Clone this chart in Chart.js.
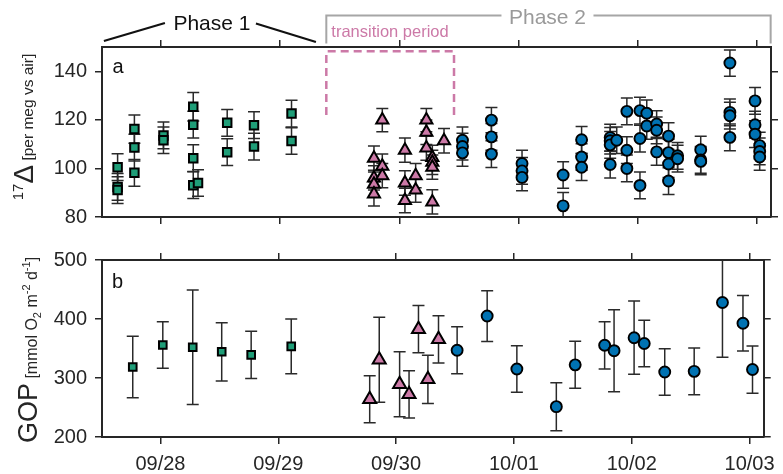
<!DOCTYPE html>
<html><head><meta charset="utf-8">
<script src="https://cdn.jsdelivr.net/npm/chart.js@4.4.0/dist/chart.umd.min.js"></script>
<style>
html,body{margin:0;padding:0;background:#fff;}
#wrap{position:relative;width:783px;height:474px;overflow:hidden;}
.c{position:absolute;left:0;width:783px;height:237px;}
#ca{top:0}
#cb{top:237px}
</style></head><body>
<div id="wrap">
<div class="c" id="ca"><canvas id="chartA" width="783" height="237"></canvas></div>
<div class="c" id="cb"><canvas id="chartB" width="783" height="237"></canvas></div>
</div>
<script>
// ---- Data (time in days after 09/28 00:00) ----
const dayLabels = ['09/28','09/29','09/30','10/01','10/02','10/03'];

// Panel a: 17Δ (per meg vs air)
const sqTimeA = [-0.365,-0.365,-0.365,-0.224,-0.224,-0.224,0.02,0.02,0.27,0.27,0.27,0.27,0.31,0.555,0.555,0.78,0.78,1.095,1.095];
const sqD17 = [100.5,92.4,91.1,116.2,108.6,98.2,113.6,111.6,125.4,118.0,104.2,93.1,94.0,118.8,106.7,117.8,109.0,122.6,111.3];
const sqD17Err = [5.5,5.5,5.5,5.8,5.5,5.5,5.5,5.5,5.9,5.5,5.5,5.5,5.5,5.5,5.5,5.5,5.5,5.5,5.5];

const triTimeA = [1.787,1.787,1.787,1.787,1.857,1.857,1.857,2.047,2.047,2.047,2.137,2.137,2.227,2.227,2.227,2.277,2.277,2.277,2.277,2.375];
const triD17 = [104.2,96.1,93.5,89.5,119.9,100.9,97.0,107.5,94.0,86.8,97.0,91.1,119.9,114.9,108.4,104.5,102.5,100.5,86.2,111.4];
const triD17Err = [5,5,5,5,4.8,5,5,5,5,5,5,5,4.8,5,5,5,5,5,5,5];

const circTimeA = [2.53,2.53,2.53,2.773,2.773,2.773,3.03,3.03,3.03,3.375,3.375,3.53,3.53,3.53,3.77,3.77,3.77,3.77,3.825,3.91,3.91,3.91,4.02,4.02,4.02,4.077,4.077,4.16,4.16,4.16,4.26,4.26,4.26,4.26,4.336,4.336,4.53,4.53,4.53,4.775,4.775,4.775,4.775,4.986,4.986,4.986,5.025,5.025,5.025];
const circD17 = [111.6,109.0,106.4,119.9,113.0,105.9,102.0,99.0,96.3,97.3,84.6,111.8,104.7,100.5,112.7,111.4,109.7,101.6,111.6,123.5,107.5,100.0,123.8,112.3,93.0,122.7,117.5,118.3,115.7,106.8,113.3,106.5,101.8,94.8,105.2,104.0,107.7,103.5,102.9,143.4,123.1,121.7,112.8,127.8,118.0,114.1,109.4,107.0,104.7];
const circD17Err = [5.5,5.5,5.5,5.2,5.5,5.5,5.5,5.5,5.5,5.5,5.5,5.5,5.5,5.5,5.5,5.5,5.5,5.5,5.5,5.5,5.5,5.5,5.5,5.5,5.5,5.5,5.5,5.5,5.5,5.5,5.5,5.5,5.5,5.5,5.5,5.5,5.5,5.5,5.5,5.4,5.5,5.5,5.5,5.5,5.5,5.5,5.5,5.5,5.5];

// Panel b: GOP (mmol O2 m-2 d-1)
const sqTimeB = [-0.235,0.02,0.274,0.52,0.77,1.11];
const sqGOP = [318.7,356,352.2,344.4,339.2,353.5];
const sqGOPErr = [52,39.5,97,49.4,40,46.5];
const triTimeB = [1.776,1.857,2.03,2.11,2.19,2.27,2.36];
const triGOP = [264,331,289.5,272.4,382.8,297.7,365.5];
const triGOPErr = [40,72,55,40,40,41,40];
const circTimeB = [2.518,2.773,3.025,3.36,3.52,3.77,3.85,4.02,4.106,4.28,4.53,4.77,4.944,5.025];
const circGOP = [347,405,315.3,251.4,322.3,355.4,346.3,368.3,358.5,310.2,311.3,428,392.7,314.3];
const circGOPErr = [40,43,39.5,40.6,39.8,40,69.5,62,39.5,39.5,39.5,93,47,40];

// Periods (days) and transition window box (17Δ units)
const phase1Range = [-0.48, 1.30];
const phase2Range = [1.387, 5.117];
const transitionRange = [1.387, 2.459];
const transitionD17 = [122, 148.2];

const xMin = -0.496, xMax = 5.12;
const FONT = "'Liberation Sans', Arial, Helvetica, sans-serif";
const AX = '#262626';
const GREEN = '#1f9e78', PINK = '#cc79a7', BLUE = '#0072b2';

Chart.defaults.font.family = FONT;
Chart.defaults.color = AX;

const pts = (xs, ys) => xs.map((x, i) => ({x, y: ys[i]}));

const errorBarPlugin = {
  id: 'errbars',
  beforeDatasetsDraw(chart) {
    const ctx = chart.ctx, xs = chart.scales.x, ys = chart.scales.y, a = chart.chartArea;
    ctx.save();
    ctx.beginPath(); ctx.rect(a.left, a.top, a.right - a.left, a.bottom - a.top); ctx.clip();
    ctx.strokeStyle = '#2a2a2a';
    ctx.lineWidth = 1.5;
    chart.data.datasets.forEach(ds => {
      if (!ds.errors) return;
      ds.data.forEach((p, i) => {
        const e = ds.errors[i];
        const x = xs.getPixelForValue(p.x);
        const y1 = ys.getPixelForValue(p.y - e), y2 = ys.getPixelForValue(p.y + e);
        ctx.beginPath();
        ctx.moveTo(x, y1); ctx.lineTo(x, y2);
        ctx.moveTo(x - 6, y1); ctx.lineTo(x + 6, y1);
        ctx.moveTo(x - 6, y2); ctx.lineTo(x + 6, y2);
        ctx.stroke();
      });
    });
    ctx.restore();
  }
};

function drawRotatedRich(ctx, segs, xBase, yCenter) {
  ctx.save();
  ctx.fillStyle = AX;
  let total = 0;
  segs.forEach(s => { ctx.font = s.size + 'px ' + FONT; s.w = ctx.measureText(s.t).width; total += s.w; });
  ctx.translate(xBase, yCenter);
  ctx.rotate(-Math.PI / 2);
  let pos = -total / 2;
  ctx.textBaseline = 'alphabetic';
  ctx.textAlign = 'left';
  segs.forEach(s => { ctx.font = s.size + 'px ' + FONT; ctx.fillText(s.t, pos, s.dy || 0); pos += s.w; });
  ctx.restore();
}

const decorA = {
  id: 'decorA',
  afterDraw(chart) {
    const ctx = chart.ctx, xs = chart.scales.x;
    ctx.save();
    ctx.fillStyle = '#111';
    ctx.font = '20px ' + FONT;
    ctx.textBaseline = 'alphabetic';
    ctx.fillText('a', 112.5, 73);
    drawRotatedRich(ctx, [
      {t: '17', size: 15, dy: -10},
      {t: 'Δ', size: 28},
      {t: ' [per meg vs air]', size: 15.5}
    ], 33, 127);
    // Phase 1 bracket
    const p1L = xs.getPixelForValue(phase1Range[0]), p1R = xs.getPixelForValue(phase1Range[1]);
    const p1M = (p1L + p1R) / 2 + 2;
    ctx.strokeStyle = '#111'; ctx.lineWidth = 2.2;
    ctx.beginPath();
    ctx.moveTo(p1L, 41); ctx.lineTo(p1M - 47, 23);
    ctx.moveTo(p1M + 44, 23.5); ctx.lineTo(p1R, 42);
    ctx.stroke();
    ctx.fillStyle = '#111';
    ctx.font = '21px ' + FONT;
    ctx.textAlign = 'center'; ctx.textBaseline = 'middle';
    ctx.fillText('Phase 1', p1M, 24);
    // Phase 2 bracket
    const p2L = xs.getPixelForValue(phase2Range[0]), p2R = xs.getPixelForValue(phase2Range[1]);
    const p2M = (p2L + p2R) / 2 - 1;
    ctx.strokeStyle = '#a6a6a6'; ctx.lineWidth = 2;
    ctx.beginPath();
    ctx.moveTo(p2L, 43.5); ctx.lineTo(p2L, 15.5); ctx.lineTo(p2M - 46, 15.5);
    ctx.moveTo(p2M + 46, 15.5); ctx.lineTo(p2R, 15.5); ctx.lineTo(p2R, 43.5);
    ctx.stroke();
    ctx.fillStyle = '#9a9a9a';
    ctx.fillText('Phase 2', p2M, 18);
    ctx.fillStyle = PINK;
    ctx.font = '16.5px ' + FONT;
    ctx.textAlign = 'left';
    ctx.fillText('transition period', xs.getPixelForValue(transitionRange[0]) + 5, 32);
    ctx.restore();
  }
};

const decorB = {
  id: 'decorB',
  afterDraw(chart) {
    const ctx = chart.ctx;
    ctx.save();
    ctx.fillStyle = '#111';
    ctx.font = '20px ' + FONT;
    ctx.textBaseline = 'alphabetic';
    ctx.fillText('b', 112, 51);
    ctx.restore();
    drawRotatedRich(ctx, [
      {t: 'GOP', size: 27},
      {t: ' [mmol O', size: 16},
      {t: '2', size: 11, dy: 4},
      {t: ' m', size: 16},
      {t: '-2', size: 11, dy: -7},
      {t: ' d', size: 16},
      {t: '-1', size: 11, dy: -7},
      {t: ']', size: 16}
    ], 37, 350 - 237);
  }
};

function gridOpts() {
  return {drawOnChartArea: false, drawTicks: true, tickLength: 7, color: AX, lineWidth: 1.5};
}
function borderOpts() { return {display: true, color: AX, width: 2}; }

function makeScales(yMin, yMax, yStep, topH, bottomH, showX) {
  return {
    x: {
      type: 'linear', position: 'bottom', min: xMin, max: xMax,
      grid: gridOpts(), border: borderOpts(),
      ticks: {display: showX, stepSize: 1, includeBounds: false, padding: 8,
        font: {size: 20}, color: AX, maxRotation: 0,
        callback: v => dayLabels[Math.round(v)] || ''},
      afterFit: s => { s.height = bottomH; }
    },
    xTop: {
      type: 'linear', position: 'top', display: true, min: xMin, max: xMax,
      grid: gridOpts(), border: borderOpts(),
      ticks: {display: false, stepSize: 1, includeBounds: false},
      afterFit: s => { s.height = topH; }
    },
    y: {
      type: 'linear', position: 'left', min: yMin, max: yMax,
      grid: gridOpts(), border: borderOpts(),
      ticks: {stepSize: yStep, includeBounds: false, padding: 8, font: {size: 20}, color: AX},
      afterFit: s => { s.width = 102; }
    },
    yRight: {
      type: 'linear', position: 'right', display: true, min: yMin, max: yMax,
      grid: gridOpts(), border: borderOpts(),
      ticks: {display: false, stepSize: yStep, includeBounds: false},
      afterFit: s => { s.width = 12; }
    }
  };
}

const common = {
  responsive: false, animation: false, events: [],
  layout: {padding: 0},
  plugins: {legend: {display: false}, tooltip: {enabled: false}}
};

new Chart(document.getElementById('chartA'), {
  type: 'scatter',
  data: {datasets: [
    {data: [{x: transitionRange[0], y: transitionD17[0]}, {x: transitionRange[0], y: transitionD17[1]},
            {x: transitionRange[1], y: transitionD17[1]}, {x: transitionRange[1], y: transitionD17[0]}],
     showLine: true, borderColor: PINK, borderWidth: 2.5, borderDash: [8, 5], pointRadius: 0, fill: false},
    {data: pts(sqTimeA, sqD17), errors: sqD17Err, pointStyle: 'rect', pointRadius: 6,
     backgroundColor: GREEN, borderColor: '#000', borderWidth: 2},
    {data: pts(triTimeA, triD17), errors: triD17Err, pointStyle: 'triangle', pointRadius: 7,
     backgroundColor: PINK, borderColor: '#000', borderWidth: 2},
    {data: pts(circTimeA, circD17), errors: circD17Err, pointStyle: 'circle', pointRadius: 5.5,
     backgroundColor: BLUE, borderColor: '#000', borderWidth: 1.9}
  ]},
  options: Object.assign({}, common, {scales: makeScales(80, 150, 20, 47, 12, false)}),
  plugins: [errorBarPlugin, decorA]
});

new Chart(document.getElementById('chartB'), {
  type: 'scatter',
  data: {datasets: [
    {data: pts(sqTimeB, sqGOP), errors: sqGOPErr, pointStyle: 'rect', pointRadius: 5.4,
     backgroundColor: GREEN, borderColor: '#000', borderWidth: 2},
    {data: pts(triTimeB, triGOP), errors: triGOPErr, pointStyle: 'triangle', pointRadius: 7.5,
     backgroundColor: PINK, borderColor: '#000', borderWidth: 2},
    {data: pts(circTimeB, circGOP), errors: circGOPErr, pointStyle: 'circle', pointRadius: 5.5,
     backgroundColor: BLUE, borderColor: '#000', borderWidth: 1.9}
  ]},
  options: Object.assign({}, common, {scales: makeScales(200, 500, 100, 23, 37, true)}),
  plugins: [errorBarPlugin, decorB]
});
</script>
</body></html>
